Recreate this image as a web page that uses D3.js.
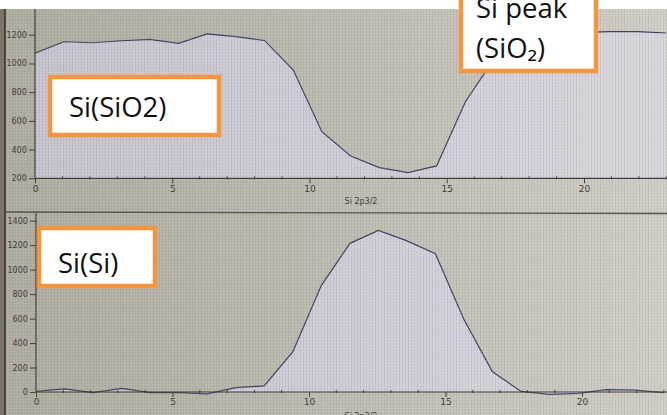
<!DOCTYPE html>
<html>
<head>
<meta charset="utf-8">
<script src="https://cdn.jsdelivr.net/npm/d3@7/dist/d3.min.js"></script>
<style>
  html, body { margin: 0; padding: 0; background: #ffffff; }
  svg { display: block; }
  .tick text { font-family: "DejaVu Sans", sans-serif; }
</style>
</head>
<body>
<svg id="chart" width="667" height="415"></svg>
<script>
// ---------------- data ----------------
const etchTimes = [0, 1.05, 2.09, 3.14, 4.18, 5.23, 6.27, 7.32, 8.36, 9.41, 10.45, 11.5,
                   12.54, 13.59, 14.63, 15.68, 16.72, 17.77, 18.81, 19.86, 20.9, 21.95, 22.99];
const siO2Counts = [1072, 1151, 1144, 1158, 1168, 1140, 1205, 1186, 1160, 954, 525, 355,
                    274, 239, 286, 733, 1030, 1170, 1205, 1215, 1221, 1221, 1212];
const siCounts   = [5, 25, -5, 30, -5, -5, -15, 35, 50, 330, 870, 1215,
                    1320, 1235, 1130, 590, 165, 5, -20, -12, 20, 15, -5];
const xTicksMajor = [0, 5, 10, 15, 20];
const topYTicks = [200, 400, 600, 800, 1000, 1200];
const botYTicks = [0, 200, 400, 600, 800, 1000, 1200, 1400];
const axisTitle = "Si 2p3/2";
const labels = { topLeft: "Si(SiO2)", topRight1: "Si peak", topRight2: "(SiO\u2082)", bottom: "Si(Si)" };

// ---------------- drawing ----------------
const svg = d3.select("#chart");
const defs = svg.append("defs");

const bg = defs.append("linearGradient").attr("id", "bgGrad").attr("x1", "0").attr("x2", "1").attr("y1", "0").attr("y2", "0");
bg.append("stop").attr("offset", "0").attr("stop-color", "#aeab9f");
bg.append("stop").attr("offset", "0.5").attr("stop-color", "#bdbbb1");
bg.append("stop").attr("offset", "1").attr("stop-color", "#d0cec6");

const fillGrad = defs.append("linearGradient").attr("id", "fillGrad").attr("x1", "0").attr("x2", "1").attr("y1", "0").attr("y2", "0");
fillGrad.append("stop").attr("offset", "0").attr("stop-color", "#c6c4cf");
fillGrad.append("stop").attr("offset", "1").attr("stop-color", "#d8d7de");

const pat = defs.append("pattern").attr("id", "grid").attr("width", 3).attr("height", 3).attr("patternUnits", "userSpaceOnUse");
pat.append("rect").attr("x", 0).attr("y", 0).attr("width", 1).attr("height", 3).attr("fill", "#6f6d66").attr("opacity", 0.14);
pat.append("rect").attr("x", 0).attr("y", 0).attr("width", 3).attr("height", 1).attr("fill", "#ffffff").attr("opacity", 0.07);

// screen background
svg.append("rect").attr("x", 0).attr("y", 0).attr("width", 667).attr("height", 415).attr("fill", "url(#bgGrad)");

function panel(cfg) {
  const g = svg.append("g");
  const x = d3.scaleLinear().domain([0, 23]).range([cfg.x0, cfg.x0 + 23 * cfg.pxPerUnit]);
  const y = d3.scaleLinear().domain(cfg.yDomain).range(cfg.yRange);
  const pts = etchTimes.map((t, i) => [t, cfg.values[i]]);

  const area = d3.area().x(d => x(d[0])).y0(y(cfg.base)).y1(d => y(d[1]));
  const line = d3.line().x(d => x(d[0])).y(d => y(d[1]));

  const clipId = "clip" + cfg.id;
  defs.append("clipPath").attr("id", clipId).append("rect")
    .attr("x", cfg.x0).attr("y", cfg.top).attr("width", 667 - cfg.x0).attr("height", cfg.bottom - cfg.top);

  const plot = g.append("g").attr("clip-path", `url(#${clipId})`);
  plot.append("path").datum(pts).attr("d", area).attr("fill", "url(#fillGrad)");
  plot.append("path").datum(pts).attr("d", line).attr("fill", "none").attr("stroke", "#3d3e5e").attr("stroke-width", 1.2);

  // x axis
  const xAxis = d3.axisBottom(x).tickValues(xTicksMajor).tickSize(5).tickFormat(d3.format("d"));
  const xa = g.append("g").attr("transform", `translate(0,${y(cfg.base)})`).call(xAxis);
  xa.select(".domain").attr("stroke", "#3c3b38").attr("stroke-width", 1.2).attr("d", `M${cfg.x0},0H667`);
  xa.selectAll(".tick line").attr("stroke", "#3c3b38");
  xa.selectAll(".tick text").attr("fill", "#3a3936").attr("font-size", 9).attr("dy", "0.6em");
  const minor = d3.range(0, 24).filter(v => v % 5 !== 0);
  xa.selectAll(".minor").data(minor).join("line").attr("class", "minor")
    .attr("x1", d => x(d)).attr("x2", d => x(d)).attr("y1", -2).attr("y2", 1)
    .attr("stroke", "#3c3b38").attr("stroke-width", 1);

  // y axis
  const yAxis = d3.axisLeft(y).tickValues(cfg.yTicks).tickSize(6).tickFormat(d3.format("d"));
  const ya = g.append("g").attr("transform", `translate(${cfg.x0},0)`).call(yAxis);
  ya.select(".domain").attr("stroke", "#3c3b38").attr("stroke-width", 1.2).attr("d", `M0,${cfg.top}V${y(cfg.base)}`);
  ya.selectAll(".tick line").attr("stroke", "#3c3b38");
  ya.selectAll(".tick text").attr("fill", "#3a3936").attr("font-size", 8).attr("dx", "0.1em");

  g.append("text").attr("x", cfg.titleX).attr("y", cfg.titleY).attr("text-anchor", "middle")
    .attr("font-family", "DejaVu Sans, sans-serif").attr("font-size", 8).attr("fill", "#3a3936").text(axisTitle);
  return { x, y };
}

panel({ id: "top", x0: 35, pxPerUnit: 27.45, yDomain: [200, 1200], yRange: [178.3, 34.7], base: 200,
        top: 9, bottom: 178.3, values: siO2Counts, yTicks: topYTicks, titleX: 361, titleY: 204 });
panel({ id: "bot", x0: 36, pxPerUnit: 27.3, yDomain: [0, 1400], yRange: [392, 220.7], base: 0,
        top: 213, bottom: 415, values: siCounts, yTicks: botYTicks, titleX: 361, titleY: 419 });

// texture overlay
svg.append("rect").attr("x", 5).attr("y", 9).attr("width", 662).attr("height", 406).attr("fill", "url(#grid)").attr("pointer-events", "none");

// separator between panels
svg.append("line").attr("x1", 5).attr("x2", 667).attr("y1", 212).attr("y2", 213.5).attr("stroke", "#55534d").attr("stroke-width", 1.3);
// screen frame edge on the left
svg.append("rect").attr("x", 0).attr("y", 9).attr("width", 5).attr("height", 406).attr("fill", "#7d7466");
svg.append("line").attr("x1", 5).attr("x2", 5).attr("y1", 9).attr("y2", 415).attr("stroke", "#2f2b27").attr("stroke-width", 1.5);
// white strip on top
svg.append("rect").attr("x", 0).attr("y", 0).attr("width", 667).attr("height", 9).attr("fill", "#ffffff");

// annotation boxes
function box(x, y, w, h, lines, tx, ty, lh) {
  svg.append("rect").attr("x", x).attr("y", y).attr("width", w).attr("height", h)
    .attr("fill", "#ffffff").attr("stroke", "#f5963f").attr("stroke-width", 4.5);
  lines.forEach((s, i) => {
    svg.append("text").attr("x", tx).attr("y", ty + i * lh)
      .attr("font-family", "Open Sans, Noto Sans, sans-serif").attr("font-size", 27.5).attr("fill", "#111111").text(s);
  });
}
box(50, 77, 169, 58, [labels.topLeft], 69, 117, 0);
box(461, -20, 135, 91, [labels.topRight1, labels.topRight2], 476, 18, 40);
box(39, 228, 116, 58, [labels.bottom], 58, 273, 0);
</script>
</body>
</html>
